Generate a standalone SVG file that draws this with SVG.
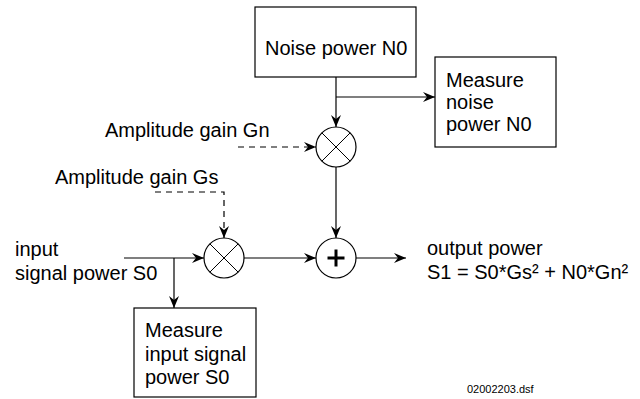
<svg xmlns="http://www.w3.org/2000/svg" width="640" height="399" viewBox="0 0 640 399">
<style>
text{font-family:"Liberation Sans",Arial,sans-serif;font-size:20px;fill:#000}
.small{font-size:11px}
.box{fill:#fff;stroke:#000;stroke-width:1.2}
.ln{fill:none;stroke:#000;stroke-width:1.2}
.dash{fill:none;stroke:#000;stroke-width:1.2;stroke-dasharray:6 5}
.circ{fill:#fff;stroke:#000;stroke-width:1.2}
.x{stroke:#000;stroke-width:1}
.plus{stroke:#000;stroke-width:3}
</style>
<defs>
<marker id="ah" viewBox="0 0 12 10" refX="12" refY="5" markerWidth="12" markerHeight="10" markerUnits="userSpaceOnUse" orient="auto">
<path d="M0,0 L12,5 L0,10 L4,5 z" fill="#000"/>
</marker>
</defs>
<rect width="640" height="399" fill="#fff"/>
<g id="connectors">
<line class="ln" x1="336" y1="77" x2="336" y2="127" marker-end="url(#ah)"/>
<line class="ln" x1="336" y1="97" x2="435" y2="97" marker-end="url(#ah)"/>
<line class="dash" x1="238" y1="147" x2="316" y2="147" marker-end="url(#ah)"/>
<polyline class="dash" points="155,192 224,192 224,238" marker-end="url(#ah)"/>
<line class="ln" x1="336" y1="167" x2="336" y2="238" marker-end="url(#ah)"/>
<line class="ln" x1="124" y1="258" x2="204" y2="258" marker-end="url(#ah)"/>
<line class="ln" x1="174" y1="258" x2="174" y2="308" marker-end="url(#ah)"/>
<line class="ln" x1="244" y1="258" x2="316" y2="258" marker-end="url(#ah)"/>
<line class="ln" x1="356" y1="258" x2="406" y2="258" marker-end="url(#ah)"/>
</g>
<g id="noise">
<rect class="box" x="255" y="7" width="161" height="70"/>
<text x="265" y="55">Noise power N0</text>
</g>
<g id="measure-noise">
<rect class="box" x="435" y="57" width="121" height="90"/>
<text x="446" y="87">Measure</text>
<text x="446" y="109">noise</text>
<text x="446" y="131">power N0</text>
</g>
<g id="mult-n">
<circle class="circ" cx="336" cy="147" r="20"/>
<line class="x" x1="321.9" y1="132.9" x2="350.1" y2="161.1"/>
<line class="x" x1="350.1" y1="132.9" x2="321.9" y2="161.1"/>
</g>
<g id="mult-s">
<circle class="circ" cx="224" cy="258" r="20"/>
<line class="x" x1="209.9" y1="243.9" x2="238.1" y2="272.1"/>
<line class="x" x1="238.1" y1="243.9" x2="209.9" y2="272.1"/>
</g>
<g id="sum">
<circle class="circ" cx="336" cy="258" r="20"/>
<line class="plus" x1="327.5" y1="258" x2="344.5" y2="258"/>
<line class="plus" x1="336" y1="249.5" x2="336" y2="266.5"/>
</g>
<g id="measure-input">
<rect class="box" x="134" y="308" width="122" height="89"/>
<text x="145" y="337">Measure</text>
<text x="145" y="361">input signal</text>
<text x="145" y="384">power S0</text>
</g>
<g id="labels">
<text x="105" y="137">Amplitude gain Gn</text>
<text x="55" y="184">Amplitude gain Gs</text>
<text x="15" y="256">input</text>
<text x="15" y="280">signal power S0</text>
<text x="427" y="255">output power</text>
<text x="427" y="279">S1 = S0*Gs² + N0*Gn²</text>
<text class="small" x="467" y="393">02002203.dsf</text>
</g>
</svg>
